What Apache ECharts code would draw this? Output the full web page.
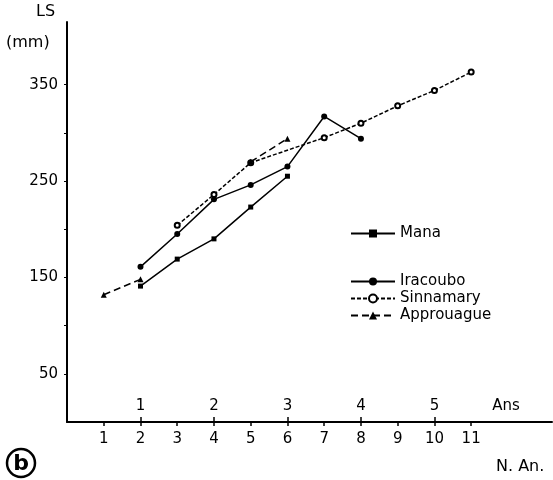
<!DOCTYPE html>
<html lang="fr">
<head>
<meta charset="UTF-8">
<title>LS</title>
<script src="https://cdn.jsdelivr.net/npm/echarts@6/dist/echarts.min.js"></script>
<style>
  html, body { margin: 0; padding: 0; background: #fff; }
  #chartmain { width: 553px; height: 480px; }
</style>
</head>
<body>
<div id="chartmain"></div>
<script type="text/javascript">
// N. An. (x) et LS en mm (y)
var manaX = [2, 3, 4, 5, 6];
var manaY = [141, 169, 190, 223, 255];
var iracouboX = [2, 3, 4, 5, 6, 7, 8];
var iracouboY = [161, 195, 231, 246, 265, 317, 294];
var sinnamaryX = [3, 4, 5, 7, 8, 9, 10, 11];
var sinnamaryY = [204, 236, 269, 295, 310, 328, 344, 363];
var approuagueX = [1, 2, null, 5, 6];
var approuagueY = [132, 148, null, 270, 294];

var nAnTicks = [1, 2, 3, 4, 5, 6, 7, 8, 9, 10, 11];
var ansTicks = [2, 4, 6, 8, 10];
var ansLabels = ['1', '2', '3', '4', '5'];
var yTicks = [50, 100, 150, 200, 250, 300, 350];
var yLabels = [50, 150, 250, 350];

function pairs(xs, ys) {
    return xs.map(function (x, i) {
        return x === null ? [3.5, '-'] : [x, ys[i]];
    });
}

var font = '"DejaVu Sans", sans-serif';
var myChart = echarts.init(document.getElementById('chartmain'));

var option = {
    animation: false,
    textStyle: { fontFamily: font, color: '#000' },
    grid: { left: 67, right: 1, top: 22, bottom: 58 },
    xAxis: [{
        type: 'value', min: 0, max: 13.2, position: 'bottom',
        splitLine: { show: false },
        axisLine: { lineStyle: { color: '#000', width: 2 } },
        axisTick: { customValues: nAnTicks, length: 4, lineStyle: { color: '#000', width: 1.5 } },
        axisLabel: { customValues: nAnTicks, color: '#000', fontSize: 15, margin: 10, fontFamily: font }
    }, {
        type: 'value', min: 0, max: 13.2, position: 'bottom',
        splitLine: { show: false },
        axisLine: { show: false },
        axisTick: { inside: true, customValues: ansTicks, length: 5, lineStyle: { color: '#000', width: 1.5 } },
        axisLabel: {
            inside: true, customValues: ansTicks.concat([11.95]), color: '#000', fontSize: 15, margin: 8, fontFamily: font,
            formatter: function (v) {
                var i = ansTicks.indexOf(v);
                return i >= 0 ? ansLabels[i] : 'Ans';
            }
        }
    }],
    yAxis: {
        type: 'value', min: 0, max: 415,
        splitLine: { show: false },
        axisLine: { show: true, lineStyle: { color: '#000', width: 2 } },
        axisTick: { show: true, customValues: yTicks, length: 3, lineStyle: { color: '#000', width: 1 } },
        axisLabel: { customValues: yLabels, color: '#000', fontSize: 15, margin: 9, fontFamily: font }
    },
    legend: [{
        left: 345, top: 221, itemWidth: 44, itemHeight: 10,
        textStyle: { fontSize: 15, color: '#000', fontFamily: font },
        data: ['Mana']
    }, {
        left: 345, top: 269, orient: 'vertical', itemGap: 2, itemWidth: 44, itemHeight: 10,
        textStyle: { fontSize: 15, color: '#000', fontFamily: font },
        data: ['Iracoubo', 'Sinnamary', 'Approuague']
    }],
    graphic: [
        { type: 'text', left: 36, top: 4, style: { text: 'LS', font: '16px ' + font, fill: '#000' } },
        { type: 'text', left: 6, top: 35, style: { text: '(mm)', font: '16px ' + font, fill: '#000' } },
        { type: 'text', left: 496, top: 459, style: { text: 'N. An.', font: '16px ' + font, fill: '#000' } },
        { type: 'circle', shape: { cx: 21, cy: 463, r: 14 }, style: { fill: 'none', stroke: '#000', lineWidth: 2.5 } },
        { type: 'text', x: 21, y: 464, style: { text: 'b', font: 'bold 22px ' + font, fill: '#000', align: 'center', verticalAlign: 'middle' } }
    ],
    series: [{
        name: 'Mana', type: 'line', data: pairs(manaX, manaY),
        symbol: 'rect', symbolSize: 5,
        itemStyle: { color: '#000' }, lineStyle: { color: '#000', width: 1.5 }
    }, {
        name: 'Iracoubo', type: 'line', data: pairs(iracouboX, iracouboY),
        symbol: 'circle', symbolSize: 6,
        itemStyle: { color: '#000' }, lineStyle: { color: '#000', width: 1.5 }
    }, {
        name: 'Sinnamary', type: 'line', data: pairs(sinnamaryX, sinnamaryY),
        symbol: 'emptyCircle', symbolSize: 5,
        itemStyle: { color: '#000', borderWidth: 1 }, lineStyle: { color: '#000', width: 1.5, type: [4, 2] }
    }, {
        name: 'Approuague', type: 'line', data: pairs(approuagueX, approuagueY),
        symbol: 'triangle', symbolSize: 6, connectNulls: false,
        itemStyle: { color: '#000' }, lineStyle: { color: '#000', width: 1.5, type: [7, 4] }
    }]
};
myChart.setOption(option);
</script>
</body>
</html>
